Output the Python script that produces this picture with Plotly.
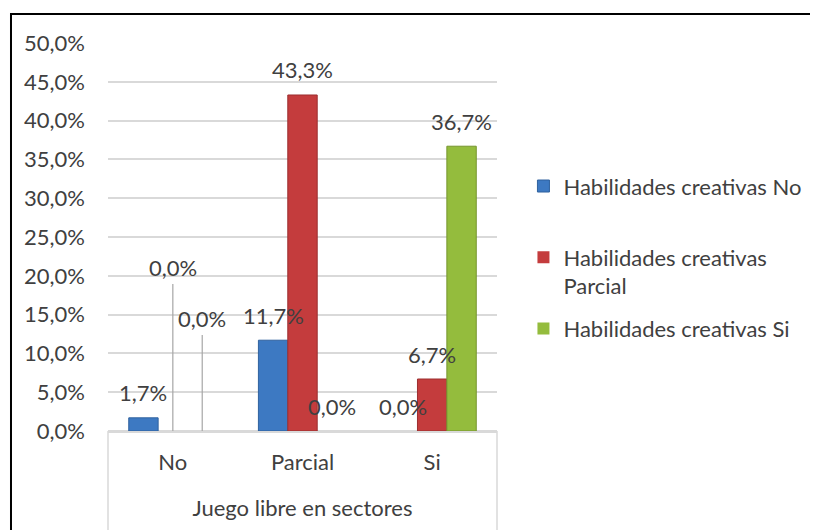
import plotly.graph_objects as go

# ---- data ----
categories = ["No", "Parcial", "Si"]
series_names = ["Habilidades creativas No", "Habilidades creativas Parcial", "Habilidades creativas Si"]
vals_no = [1.7, 11.7, 0.0]
vals_parcial = [0.0, 43.3, 6.7]
vals_si = [0.0, 0.0, 36.7]
y_ticks = [0, 5, 10, 15, 20, 25, 30, 35, 40, 45, 50]
y_tick_labels = [f"{v:.1f}".replace(".", ",") + "%" for v in y_ticks]
x_title = "Juego libre en sectores"

series_values = [vals_no, vals_parcial, vals_si]
legend_names = ["Habilidades creativas No<br> ", "Habilidades creativas<br>Parcial", "Habilidades creativas Si"]

# ---- style ----
colors = ["#3D79C2", "#C43C3D", "#94BC3D"]
edge_colors = ["#2F619E", "#9C2E2F", "#76952E"]
FONT = "Lato, 'Open Sans', sans-serif"
FS = 22
TXT = "#404040"
GRID = "#D9D9D9"
W, H = 810, 522
L, T = 100, 35
PW, PH = 397, 388
R, B = W - L - PW, H - T - PH
bargap = 0.32
# leader-line labels (series index, category index) -> pixel offset of label
leader = {(1, 0): -164, (2, 0): -113}

fig = go.Figure()
for i, (name, vals) in enumerate(zip(series_names, series_values)):
    fig.add_trace(go.Bar(
        x=categories, y=vals, name=legend_names[i],
        marker=dict(color=colors[i],
                    line=dict(color=edge_colors[i], width=[1 if v > 0 else 0 for v in vals])),
        legendgroup=str(i), hovertext=name,
    ))

# data labels
bar_w = (1 - bargap) / 3
annotations = []
for i, vals in enumerate(series_values):
    for j, v in enumerate(vals):
        xpos = j + (i - 1) * bar_w
        label = f"{v:.1f}".replace(".", ",") + "%"
        if (i, j) in leader:
            annotations.append(dict(
                x=xpos, y=v, xref="x", yref="y", text=label,
                showarrow=True, arrowhead=0, arrowwidth=1.2, arrowcolor="#A6A6A6",
                ax=0, ay=leader[(i, j)], standoff=0, startstandoff=2,
                font=dict(family=FONT, size=FS, color=TXT)))
        else:
            annotations.append(dict(
                x=xpos, y=v, xref="x", yref="y", text=label, showarrow=False,
                yshift=25, font=dict(family=FONT, size=FS, color=TXT)))

shapes = [
    # outer frame
    dict(type="rect", xref="paper", yref="paper",
         x0=(1 - L) / PW, x1=2.0, y0=-1.0, y1=1 + (T - 6) / PH,
         line=dict(color="black", width=2), fillcolor="rgba(0,0,0,0)", layer="below"),
    # category band lines
    dict(type="line", xref="paper", yref="paper", x0=0, x1=0, y0=0, y1=-0.35,
         line=dict(color=GRID, width=1.5)),
    dict(type="line", xref="paper", yref="paper", x0=1, x1=1, y0=0, y1=-0.35,
         line=dict(color=GRID, width=1.5)),
]

fig.update_layout(
    width=W, height=H,
    margin=dict(l=L, r=R, t=T, b=B),
    paper_bgcolor="white", plot_bgcolor="white",
    barmode="group", bargap=bargap, bargroupgap=0,
    font=dict(family=FONT, size=FS, color=TXT),
    showlegend=True,
    legend=dict(x=1.068, y=0.685, xanchor="left", yanchor="top",
                font=dict(family=FONT, size=FS, color=TXT),
                valign="top", tracegroupgap=11,
                bgcolor="rgba(0,0,0,0)"),
    annotations=annotations,
    shapes=shapes,
    xaxis=dict(
        showgrid=False, showline=True, linecolor=GRID, linewidth=1.5,
        ticks="", ticklabelstandoff=11,
        tickfont=dict(family=FONT, size=FS, color=TXT),
        title=dict(text=x_title, standoff=26, font=dict(family=FONT, size=FS, color=TXT)),
    ),
    yaxis=dict(
        range=[0, 50], tickmode="array", tickvals=y_ticks, ticktext=y_tick_labels,
        showgrid=True, gridcolor=GRID, gridwidth=1.5,
        zeroline=True, zerolinecolor=GRID, zerolinewidth=1.5,
        showline=False, ticks="", ticklabelstandoff=22,
        tickfont=dict(family=FONT, size=FS, color=TXT),
    ),
)

fig.write_html("out.html")
